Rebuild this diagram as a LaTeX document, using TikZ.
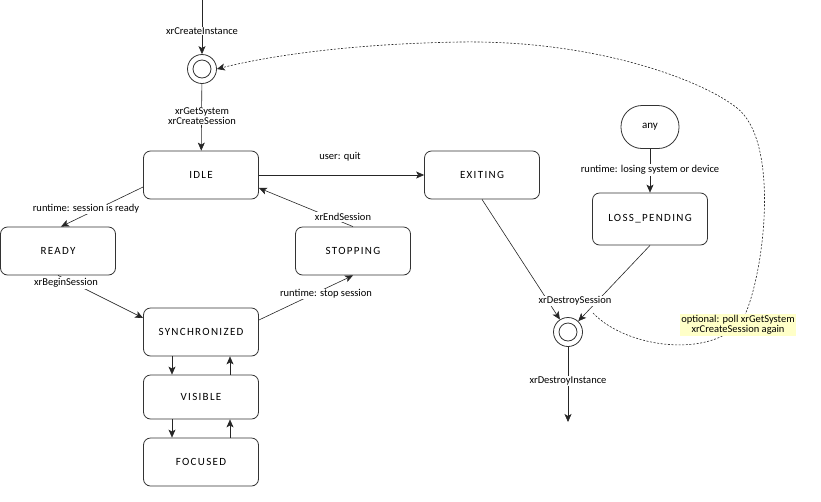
\documentclass[tikz,border=0pt]{standalone}
\usepackage{fontspec}
\setmainfont{Carlito}
\usepackage{tikz}
\usetikzlibrary{arrows.meta}

\begin{document}
\begin{tikzpicture}[x=1pt,y=-1pt,font=\fontsize{10.5}{12}\selectfont,
        stbox/.style={draw=black!80,line width=0.8pt,rounded corners=7pt,minimum width=115pt,minimum height=48pt,font=\fontsize{11}{13}\selectfont\addfontfeature{LetterSpace=12}},
        pstate/.style={circle,draw=black!80,line width=0.8pt,minimum size=29pt,inner sep=0pt,path picture={\draw[line width=0.8pt,black!80] (path picture bounding box.center) circle[radius=9pt];}},
        lbl/.style={fill=white,inner sep=1pt,align=center},
        tr/.style={draw=black!85,line width=0.6pt,-{Stealth[length=8pt,width=7pt,inset=2pt]}}]
        \useasboundingbox (0,0) rectangle (821,501);
        \node[pstate] (init) at (202,69) {};
        \node[pstate] (fin) at (568,332) {};
        \node[stbox] (idle) at (201,175) {IDLE};
        \node[stbox] (ready) at (58,251) {READY};
        \node[stbox] (stopping) at (353,251) {STOPPING};
        \node[stbox] (sync) at (201,332) {SYNCHRONIZED};
        \node[stbox,minimum height=44pt] (visible) at (201,397) {VISIBLE};
        \node[stbox] (focused) at (201,462) {FOCUSED};
        \node[stbox] (exiting) at (482,175) {EXITING};
        \node[stbox,minimum height=52pt] (loss) at (650,219) {LOSS\_PENDING};
        \node[stbox,rounded corners=21pt,minimum width=58pt,minimum height=43pt,font=\fontsize{11}{13}\selectfont] (any) at (650,127) {any};
        \coordinate (top) at (202,0);
        \coordinate (bottom) at (568,422);
        \coordinate (loopstart) at (593,313);
        \draw[tr] (top) -- (init);
        \draw[tr] (init) -- (idle);
        \draw[tr] (idle) -- (exiting);
        \draw[tr] ([yshift=-12pt]idle.west) -- ([xshift=3pt]ready.north);
        \draw[tr] (stopping.north) -- ([yshift=-13pt]idle.east);
        \draw[tr] (ready.south) -- ([yshift=14pt]sync.west);
        \draw[tr] ([yshift=12pt]sync.east) -- (stopping.south);
        \draw[tr] ([xshift=-29pt]sync.south) -- ([xshift=-29pt]visible.north);
        \draw[tr] ([xshift=29pt]visible.north) -- ([xshift=29pt]sync.south);
        \draw[tr] ([xshift=-29pt]visible.south) -- ([xshift=-29pt]focused.north);
        \draw[tr] ([xshift=29pt]focused.north) -- ([xshift=29pt]visible.south);
        \draw[tr] (exiting.south) -- (fin);
        \draw[tr] (loss.south) -- (fin);
        \draw[tr] (any) -- (loss);
        \draw[tr] (fin) -- (bottom);
        \draw[tr,dash pattern=on 2pt off 1.6pt] (loopstart) .. controls (630,352) and (728,360) .. (747,310)
            .. controls (766,260) and (778,140) .. (737,108)
            .. controls (705,82) and (600,40) .. (460,42)
            .. controls (340,44) and (260,58) .. (init.east);
        \node[lbl] at (202,31) {xrCreateInstance};
        \node[lbl] at (202,116) {xrGetSystem\\[-2pt]xrCreateSession};
        \node[lbl] at (340,157) {user: quit};
        \node[lbl] at (86,209) {runtime: session is ready};
        \node[lbl] at (343,217) {xrEndSession};
        \node[lbl] at (66,283) {xrBeginSession};
        \node[lbl] at (326,294) {runtime: stop session};
        \node[lbl] at (650,170) {runtime: losing system or device};
        \node[lbl] at (575,301) {xrDestroySession};
        \node[lbl,fill={rgb,255:red,255;green,255;blue,200}] at (738,325) {optional: poll xrGetSystem\\[-2pt]xrCreateSession again};
        \node[lbl] at (568,381) {xrDestroyInstance};
    \end{tikzpicture}
\end{document}
